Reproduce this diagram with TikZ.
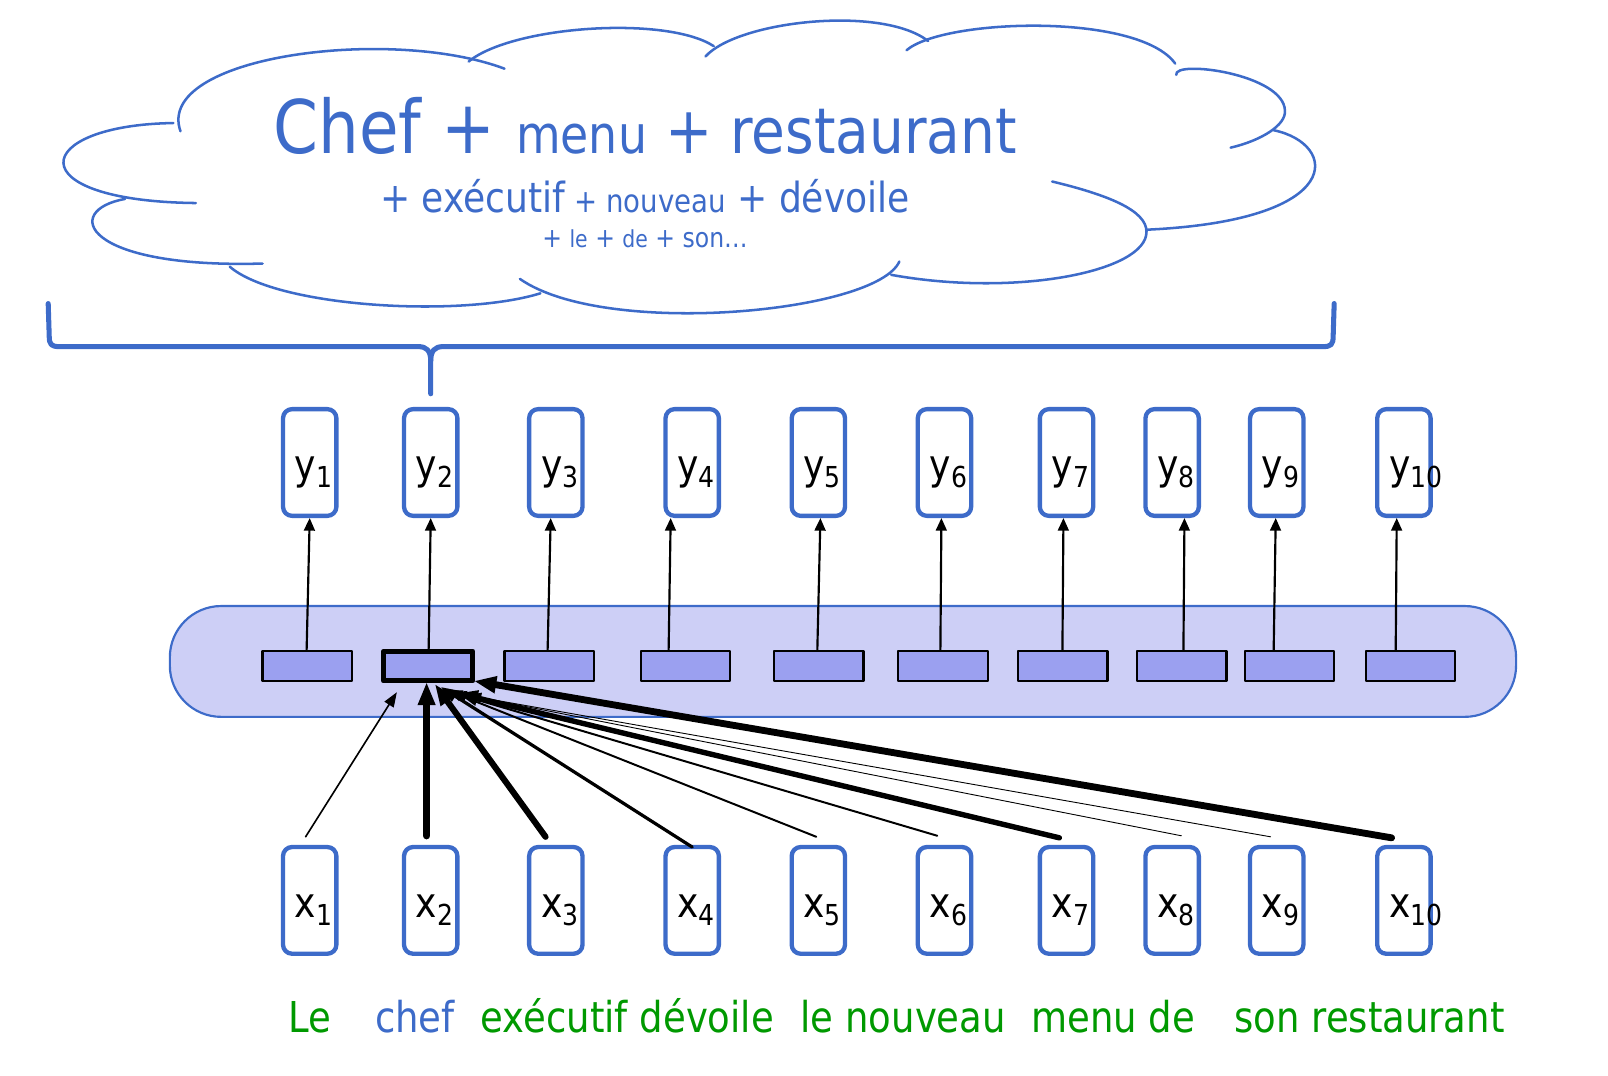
\documentclass[tikz,border=0pt]{standalone}
\usepackage{fontspec}
\setmainfont{DejaVu Sans}[FakeStretch=0.87]
\usetikzlibrary{arrows.meta, calc}
\definecolor{cblue}{RGB}{61,107,201}
\definecolor{wgreen}{RGB}{0,153,0}
\definecolor{layerfill}{RGB}{205,207,246}
\definecolor{hidfill}{RGB}{155,160,240}
\newcommand{\tokname}[2]{#1\raisebox{-2pt}{\fontsize{8}{9}\selectfont #2}}
\newcommand{\fs}[1]{\fontsize{#1}{#1}\selectfont}

\begin{document}
\begin{tikzpicture}[x=0.01cm, y=-0.01cm, line cap=round, line join=round]
\tikzset{
	tok/.style={draw=cblue, line width=1.2pt, rounded corners=2.5pt, minimum width=0.52cm, minimum height=1.04cm, inner sep=0pt},
	hid/.style={draw=black, line width=0.6pt, fill=hidfill, minimum width=0.87cm, minimum height=0.29cm, inner sep=0pt},
	hidsel/.style={hid, line width=1.4pt},
	lab/.style={font=\fs{11.5}, inner sep=0pt, anchor=base west},
	word/.style={font=\fs{11.8}, inner sep=0pt, anchor=base west, text=wgreen},
	uparr/.style={-{Triangle[length=3.5pt, width=3pt]}, line width=0.6pt},
	att/.style={-{Triangle[length=3.4pt 1.5, width=2.5pt 1]}},
}
\useasboundingbox (0,0) rectangle (1568,1049);

%========================
% cloud of context words
%========================
\begin{scope}[draw=cblue, line width=0.7pt]
	\draw (176,128) .. controls (150,55) and (380,25) .. (492,67);
	\draw (457,60) .. controls (500,25) and (650,15) .. (696,45);
	\draw (688,55) .. controls (720,20) and (860,5) .. (905,40);
	\draw (884,49) .. controls (920,18) and (1110,12) .. (1146,62);
	\draw (1147,73) .. controls (1144,58) and (1252,72) .. (1253,108)
		.. controls (1254,122) and (1230,137) .. (1200,144);
	\draw (1242,127) .. controls (1305,140) and (1315,215) .. (1118,224);
	\draw (1026,177) .. controls (1080,190) and (1118,205) .. (1118,226)
		.. controls (1118,265) and (990,290) .. (869,268);
	\draw (877,255) .. controls (855,305) and (590,330) .. (507,272);
	\draw (224,260) .. controls (270,300) and (450,310) .. (527,286);
	\draw (122,194) .. controls (60,205) and (80,262) .. (256,257);
	\draw (169,120) .. controls (30,122) and (15,196) .. (191,198);
\end{scope}

\node[text=cblue, anchor=base, inner sep=0pt] (t1) at (629,150)
	{{\fs{20.5}Chef + }{\fs{14.6}menu}{\fs{18} + }{\fs{17.5}restaurant}};
\node[text=cblue, anchor=base, inner sep=0pt] (t2) at (629,207)
	{{\fs{11.5}+ exécutif}{\fs{8.8} + nouveau}{\fs{11.5} + dévoile}};
\node[text=cblue, anchor=base, inner sep=0pt] (t3) at (629,241)
	{{\fs{7.5}+ }{\fs{6.5}le}{\fs{7.5} + }{\fs{6.5}de}{\fs{7.5} + son\ldots}};

% brace under the cloud
\draw[cblue, line width=1.4pt] (47,296) -- (48,328) .. controls (48,336) and (50,338) .. (58,338)
	-- (408,338) .. controls (416,338) and (420,342) .. (420,352) -- (420,384);
\draw[cblue, line width=1.4pt] (1301,296) -- (1300,328) .. controls (1300,336) and (1298,338) .. (1290,338)
	-- (432,338) .. controls (424,338) and (420,342) .. (420,352);

% hidden layer
\node[draw=cblue, line width=0.6pt, fill=layerfill, rounded corners=0.5cm,
	minimum width=13.12cm, minimum height=1.08cm, inner sep=0pt] (layer) at (822,645) {};

% tokens, outputs and hidden states
\foreach \i/\cx/\hx/\st in {1/302/299.5/hid, 2/420/417.5/hidsel, 3/542/535.5/hid, 4/675/668.5/hid,
	5/798/798.5/hid, 6/921/919.5/hid, 7/1040/1036.5/hid, 8/1143/1152.5/hid, 9/1245/1257.5/hid, 10/1369/1375.5/hid}{
	\node[tok] (y\i) at (\cx,451) {};
	\node[lab] (ly\i) at ($(y\i.west)+(13,17)$) {\tokname{y}{\i}};
	\node[tok] (x\i) at (\cx,878) {};
	\node[lab] (lx\i) at ($(x\i.west)+(13,17)$) {\tokname{x}{\i}};
	\node[\st] (h\i) at (\hx,649.5) {};
}

% outputs
\foreach \i/\ab/\at in {1/299/302, 2/418/420, 3/534/537, 4/652/654, 5/797/800,
	6/917/918, 7/1036/1037, 8/1154/1155, 9/1242/1244, 10/1361/1362}
	\draw[uparr] (h\i.north -| \ab,0) -- (y\i.south -| \at,0);

% attention weights into h2
\foreach \i/\sx/\sy/\tx/\ty/\w in {1/298/816/-30.5/25.5/0.45, 2/416/815/-1.5/15.5/2.0,
	3/532/816/6.5/17.5/1.7, 4/675/826/12.5/20.5/0.9, 5/796/816/18.5/23.5/0.55,
	6/914/815/22.5/25.5/0.55, 7/1033/817/28.5/26.5/1.5, 8/1152/815/34.5/27.5/0.25,
	9/1239/816/38.5/28.5/0.25, 10/1357/817/44.5/14.5/1.9}{
	\coordinate (s\i) at (\sx,\sy);
	\draw[att, line width=\w pt] (s\i) -- ($(h2.center)+(\tx,\ty)$);
}

% sentence
\node[word] (w1) at (281,1007) {Le};
\node[word, text=cblue] (w2) at (365,1007) {chef};
\node[word] (w3) at (468,1007) {exécutif dévoile};
\node[word] (w4) at (780,1007) {le nouveau};
\node[word] (w5) at (1005,1007) {menu de};
\node[word] (w6) at (1203,1007) {son restaurant};
\end{tikzpicture}
\end{document}
